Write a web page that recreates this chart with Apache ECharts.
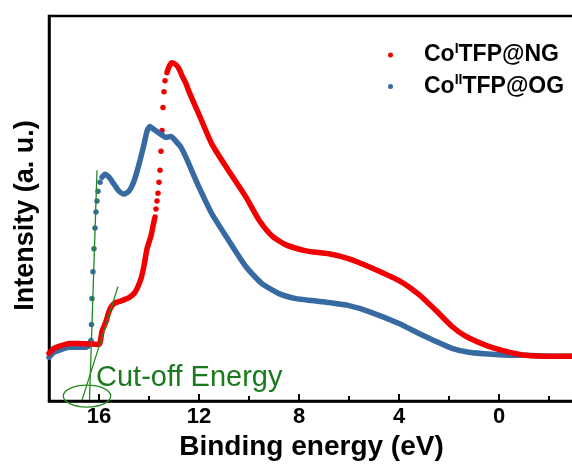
<!DOCTYPE html>
<html>
<head>
<meta charset="utf-8">
<script src="https://cdn.jsdelivr.net/npm/echarts@6/dist/echarts.min.js"></script>
<style>
    html, body { margin: 0; padding: 0; overflow: hidden; background: #fff; }
    .chart1 { width: 576px; height: 466px; }
</style>
</head>
<body>
<div class="chart1"></div>
<script>
// binding energy (eV), intensity (a. u.)
var redCurveA = [[18.0,48],[17.8,53],[17.6,55],[17.2,58],[16.8,58],[16.4,57.5],[16.0,57],[15.88,70],[15.72,80],[15.6,90],[15.48,96],[15.32,99],[15.08,101],[14.8,104],[14.6,108],[14.48,113],[14.32,123],[14.2,136],[14.08,153],[13.92,166],[13.84,176],[13.76,185]];
var redDots = [[13.72,193],[13.68,201],[13.64,209],[13.6,220],[13.56,232],[13.52,251],[13.48,272],[13.44,295],[13.4,311],[13.36,322]];
var redCurveB = [[13.28,330],[13.2,336],[13.08,340],[12.92,338],[12.8,334],[12.68,327],[12.52,319],[12.4,311],[12.0,288],[11.48,258],[10.8,231],[10.12,205],[9.6,182],[9.08,166],[8.52,157],[7.72,151],[6.8,148],[6.0,143],[5.2,135],[4.0,121],[3.2,107],[2.52,91],[1.88,75],[1.32,65],[0.52,56],[-0.28,50],[-1.08,46],[-2.12,45],[-3.0,45]];

var blueCurveA = [[18.0,44],[17.8,49],[17.6,51],[17.2,54],[16.8,54],[16.5,54],[16.4,56],[16.34,59]];
var blueDots = [[16.32,61],[16.3,77],[16.28,103],[16.24,130],[16.2,153],[16.16,174],[16.12,190],[16.08,201],[16.04,211],[15.96,220]];
var blueCurveB = [[15.88,225],[15.76,228],[15.6,225],[15.4,218],[15.2,211],[15.0,208],[14.8,211],[14.6,221],[14.4,238],[14.2,258],[14.08,271],[13.96,276],[13.8,273],[13.52,268],[13.32,265],[13.12,266],[12.92,261],[12.72,255],[12.52,245],[12.4,238],[12.0,215],[11.48,188],[10.8,161],[10.12,135],[9.48,118],[8.8,108],[8.12,103],[7.48,101],[6.8,99],[6.0,96],[5.2,90],[4.0,78],[3.2,68],[2.52,60],[1.88,53],[1.2,49],[0.28,47],[-0.52,46],[-1.08,46],[-2.12,45],[-3.0,45]];

// tangent lines and cut-off marker
var tangentBlue = [[16.08,232],[16.38,1]];
var tangentRed = [[15.24,115],[16.68,1]];
var cutoffCenter = [16.48,5];
var cutoffLabelAt = [16.12,9];

var majorTicks = [0, 4, 8, 12, 16];
var minorTicks = [-2, 2, 6, 10, 14];

var RED = '#f00000';
var BLUE = '#386aa2';
var GREEN = '#238a23';
var FONT = "'Liberation Sans', Arial, sans-serif";

var myChart1;
function initChart1() {
    var chartDom = document.querySelector('.chart1');
    myChart1 = echarts.init(chartDom);
    var option;

    var curve = function (name, color, data) {
        return {
            name: name, type: 'line', data: data, smooth: 0.2,
            showSymbol: false, silent: true,
            itemStyle: { color: color },
            lineStyle: { color: color, width: 5.5, join: 'round', cap: 'round' }
        };
    };
    var dots = function (name, color, data) {
        return {
            name: name, type: 'scatter', data: data, symbolSize: 5.5,
            silent: true, itemStyle: { color: color, opacity: 1 }
        };
    };
    var tangent = function (data) {
        return {
            type: 'line', data: data, showSymbol: false, silent: true,
            lineStyle: { color: GREEN, width: 1.3 }
        };
    };

    option = {
        animation: false,
        grid: {
            left: 49, right: 2, top: 16, bottom: 63,
            show: true, borderColor: '#000', borderWidth: 2.5
        },
        legend: {
            orient: 'vertical',
            left: 383, top: 37,
            itemWidth: 5, itemHeight: 5, itemGap: 7,
            selectedMode: false,
            data: [
                { name: 'CoITFP@NG', icon: 'circle', itemStyle: { color: RED } },
                { name: 'CoIITFP@OG', icon: 'circle', itemStyle: { color: BLUE } }
            ],
            formatter: function (name) {
                if (name === 'CoITFP@NG') return '{a|Co}{s|I}{a|TFP@NG}';
                return '{a|Co}{s|II}{a|TFP@OG}';
            },
            textStyle: {
                padding: [0, 0, 0, 26],
                rich: {
                    a: { fontFamily: FONT, fontSize: 23, fontWeight: 'bold', color: '#000', lineHeight: 26 },
                    s: { fontFamily: FONT, fontSize: 14, fontWeight: 'bold', color: '#000', lineHeight: 14, verticalAlign: 'top' }
                }
            }
        },
        xAxis: [{
            type: 'value', inverse: true, min: -3, max: 18,
            name: 'Binding energy (eV)', nameLocation: 'middle', nameGap: 31,
            nameTextStyle: { fontFamily: FONT, fontSize: 28, fontWeight: 'bold', color: '#000' },
            axisLine: { onZero: false, lineStyle: { color: '#000', width: 2.5 } },
            axisTick: { inside: true, length: 7, customValues: majorTicks, lineStyle: { color: '#000', width: 2 } },
            axisLabel: { customValues: majorTicks, margin: 5, fontFamily: FONT, fontSize: 22, fontWeight: 'bold', color: '#000' },
            splitLine: { show: false }
        }, {
            type: 'value', inverse: true, min: -3, max: 18, position: 'bottom',
            axisLine: { show: false },
            axisTick: { inside: true, length: 5, customValues: minorTicks, lineStyle: { color: '#000', width: 2 } },
            axisLabel: { show: false },
            splitLine: { show: false }
        }],
        yAxis: {
            type: 'value', min: 0, max: 387,
            name: 'Intensity (a. u.)', nameLocation: 'middle', nameGap: 10,
            nameTextStyle: { fontFamily: FONT, fontSize: 27, fontWeight: 'bold', color: '#000', padding: [0, 14, 0, 0] },
            axisLine: { show: true, onZero: false, lineStyle: { color: '#000', width: 2.5 } },
            axisTick: { show: false },
            axisLabel: { show: false },
            splitLine: { show: false }
        },
        series: [
            curve('CoIITFP@OG', BLUE, blueCurveA),
            dots('CoIITFP@OG', BLUE, blueDots),
            curve('CoIITFP@OG', BLUE, blueCurveB),
            curve('CoITFP@NG', RED, redCurveA),
            dots('CoITFP@NG', RED, redDots),
            curve('CoITFP@NG', RED, redCurveB),
            tangent(tangentBlue),
            tangent(tangentRed)
        ]
    };

    option && myChart1.setOption(option);

    // cut-off ellipse and label, placed through the axes
    var c = myChart1.convertToPixel({ xAxisIndex: 0, yAxisIndex: 0 }, cutoffCenter);
    var e = myChart1.convertToPixel({ xAxisIndex: 0, yAxisIndex: 0 }, [cutoffCenter[0] - 0.95, cutoffCenter[1] + 11]);
    var t = myChart1.convertToPixel({ xAxisIndex: 0, yAxisIndex: 0 }, cutoffLabelAt);
    myChart1.setOption({
        graphic: [{
            type: 'ellipse', silent: true, z: 100,
            shape: { cx: c[0], cy: c[1], rx: Math.abs(e[0] - c[0]), ry: Math.abs(c[1] - e[1]) },
            style: { fill: 'none', stroke: GREEN, lineWidth: 1.3 }
        }, {
            type: 'text', silent: true, z: 100, x: t[0], y: t[1],
            style: {
                text: 'Cut-off Energy', fill: '#1b7a1b',
                font: '29px ' + FONT, textAlign: 'left', textVerticalAlign: 'bottom'
            }
        }]
    });
}

document.addEventListener('DOMContentLoaded', function () {
    initChart1();
});

window.addEventListener('resize', () => {
    myChart1.resize();
});
</script>
</body>
</html>
